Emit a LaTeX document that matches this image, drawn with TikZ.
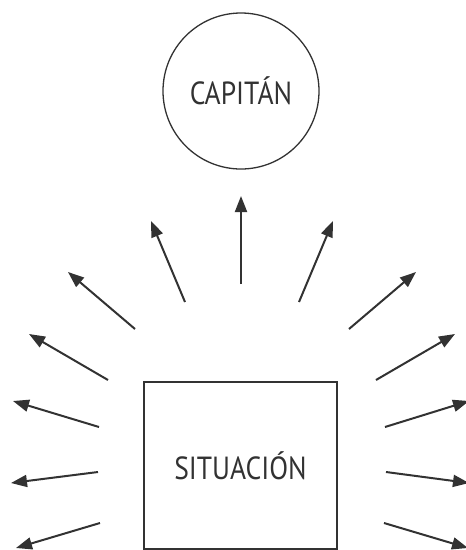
\documentclass[tikz,border=0pt]{standalone}
\usepackage{fontspec}
\setmainfont[FakeStretch=0.86]{PT Sans}
\usepackage{tikz}
\usetikzlibrary{arrows.meta}
\definecolor{mygray}{RGB}{50,50,50}

\begin{document}
\begin{tikzpicture}[x=1pt,y=-1pt,
    ray/.style={draw=mygray, line width=2pt, -{Triangle[length=16pt,width=12pt]}},
    box/.style={draw=mygray, line width=1.3pt, text=mygray, font=\fontsize{32}{36}\selectfont}]
    \useasboundingbox (0,0) rectangle (466,550);

    % The two main nodes
    \node[box, circle, minimum size=156pt, inner sep=0pt] (capitan) at (241,91) {CAPIT\'AN};
    \node[box, rectangle, minimum width=193pt, minimum height=167pt, inner sep=0pt] (situacion) at (240.5,465.5) {SITUACI\'ON};

    % Rays: tail x/y and head x/y
    \foreach \tx/\ty/\hx/\hy [count=\i] in {
        185/302/151/221, 135/329/68/272, 108/380/29/334,
        99/427/13/401, 98/472/11/483, 100/523/16/548,
        241/284/241/196,
        299/302/333/221, 349/329/416/272, 376/380/455/334,
        385/427/469/401, 386/472/469/483, 384/523/468/548}{
      \coordinate (tail\i) at (\tx,\ty);
      \coordinate (head\i) at (\hx,\hy);
      \draw[ray] (tail\i) -- (head\i);
    }
\end{tikzpicture}
\end{document}
